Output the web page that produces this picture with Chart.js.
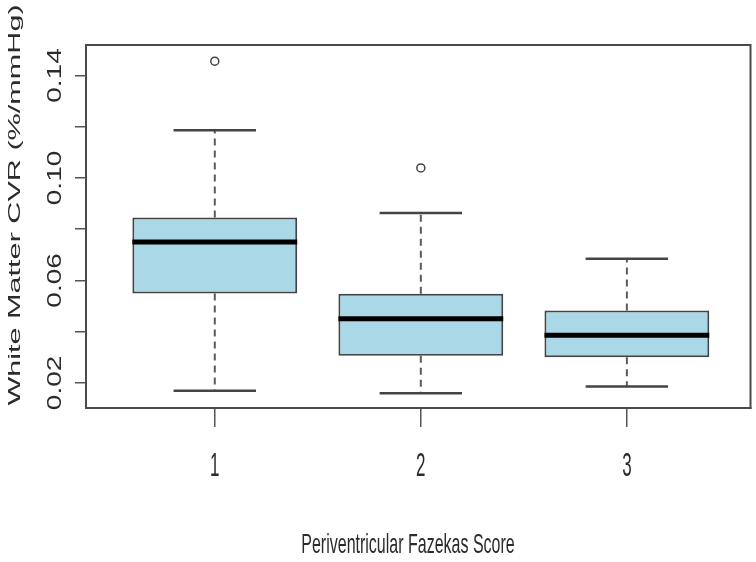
<!DOCTYPE html>
<html>
<head>
<meta charset="utf-8">
<title>White Matter CVR by Periventricular Fazekas Score</title>
<script src="https://cdn.jsdelivr.net/npm/chart.js@4.4.1/dist/chart.umd.min.js"></script>
<style>
    html, body { margin: 0; padding: 0; background: #ffffff; }
    #wrap { width: 756px; height: 562px; }
</style>
</head>
<body>
<div id="wrap"><canvas id="boxChart" width="756" height="562"></canvas></div>
<script>
// Groups (Fazekas score) and box statistics
const groups = [1, 2, 3];
const groupLabels = ['1', '2', '3'];
const whiskerLow = [0.0169, 0.0160, 0.0186];
const lowerQuartile = [0.0549, 0.0306, 0.0300];
const medians = [0.0750, 0.0450, 0.0386];
const upperQuartile = [0.0846, 0.0548, 0.0483];
const whiskerHigh = [0.1186, 0.0863, 0.0685];

// Outliers
const outlierGroups = [1, 2];
const outlierValues = [0.1456, 0.1039];

// Y axis ticks (R draws every tick but skips overlapping labels)
const yTicks = [0.02, 0.04, 0.06, 0.08, 0.10, 0.12, 0.14];
const yTickLabels = ['0.02', '', '0.06', '', '0.10', '', '0.14'];

const xTitle = 'Periventricular Fazekas Score';
const yTitle = 'White Matter CVR (%/mmHg)';

const BOX_WIDTH = 0.8;
const CAP_WIDTH = 0.4;
const TEXT_COLOR = '#2b2b2b';
const FONT = '"Liberation Sans", Arial, sans-serif';

// Build line segments separated by gaps
function segments(fn) {
    const out = [];
    groups.forEach((g, i) => {
        fn(g, i).forEach(seg => {
            out.push(seg[0], seg[1], { x: g, y: null });
        });
    });
    return out;
}

const whiskerData = segments((g, i) => [
    [{ x: g, y: upperQuartile[i] }, { x: g, y: whiskerHigh[i] }],
    [{ x: g, y: lowerQuartile[i] }, { x: g, y: whiskerLow[i] }]
]);
const capData = segments((g, i) => [
    [{ x: g - CAP_WIDTH / 2, y: whiskerHigh[i] }, { x: g + CAP_WIDTH / 2, y: whiskerHigh[i] }],
    [{ x: g - CAP_WIDTH / 2, y: whiskerLow[i] }, { x: g + CAP_WIDTH / 2, y: whiskerLow[i] }]
]);
const medianData = segments((g, i) => [
    [{ x: g - BOX_WIDTH / 2, y: medians[i] }, { x: g + BOX_WIDTH / 2, y: medians[i] }]
]);
const boxData = groups.map((g, i) => ({ x: g, y: [lowerQuartile[i], upperQuartile[i]] }));
const outlierData = outlierGroups.map((g, i) => ({ x: g, y: outlierValues[i] }));

// Stretched text, the figure was resized non-uniformly
function drawText(ctx, text, x, y, size, rotate, sx, sy) {
    ctx.save();
    ctx.translate(x, y);
    if (rotate) ctx.rotate(-Math.PI / 2);
    ctx.scale(sx, sy);
    ctx.font = size + 'px ' + FONT;
    ctx.fillStyle = TEXT_COLOR;
    ctx.textAlign = 'center';
    ctx.textBaseline = 'middle';
    ctx.fillText(text, 0, 0);
    ctx.restore();
}

const rStylePlugin = {
    id: 'rStyle',
    afterDraw(chart) {
        const ctx = chart.ctx;
        const area = chart.chartArea;
        const xs = chart.scales.x;
        const ys = chart.scales.y;

        // plot box
        ctx.save();
        ctx.strokeStyle = '#4a4a4a';
        ctx.lineWidth = 2;
        ctx.strokeRect(area.left, area.top, area.right - area.left, area.bottom - area.top);
        ctx.restore();

        yTicks.forEach((v, i) => {
            if (yTickLabels[i]) {
                drawText(ctx, yTickLabels[i], 55, ys.getPixelForValue(v), 20, true, 1.4, 1);
            }
        });
        groups.forEach((g, i) => {
            drawText(ctx, groupLabels[i], xs.getPixelForValue(g), 467, 17, false, 1, 2.0);
        });
        drawText(ctx, yTitle, 15, 205, 17, true, 1.8, 1);
        drawText(ctx, xTitle, 408, 545, 16, false, 1, 1.75);
    }
};

document.addEventListener('DOMContentLoaded', function() {
    const ctx = document.getElementById('boxChart').getContext('2d');
    new Chart(ctx, {
        type: 'bar',
        data: {
            datasets: [
                {
                    type: 'line',
                    label: 'Whiskers',
                    data: whiskerData,
                    borderColor: '#5a5a5a',
                    borderWidth: 2,
                    borderDash: [7, 5],
                    pointRadius: 0,
                    spanGaps: false,
                    fill: false,
                    order: 5
                },
                {
                    type: 'bar',
                    label: 'Boxes',
                    data: boxData,
                    backgroundColor: '#aad8e6',
                    borderColor: '#444444',
                    borderWidth: 2,
                    borderSkipped: false,
                    barPercentage: BOX_WIDTH,
                    categoryPercentage: 1.0,
                    order: 4
                },
                {
                    type: 'line',
                    label: 'Caps',
                    data: capData,
                    borderColor: '#444444',
                    borderWidth: 2.5,
                    pointRadius: 0,
                    spanGaps: false,
                    fill: false,
                    order: 3
                },
                {
                    type: 'line',
                    label: 'Medians',
                    data: medianData,
                    borderColor: '#000000',
                    borderWidth: 5,
                    borderCapStyle: 'butt',
                    pointRadius: 0,
                    spanGaps: false,
                    fill: false,
                    order: 2
                },
                {
                    type: 'scatter',
                    label: 'Outliers',
                    data: outlierData,
                    pointStyle: 'circle',
                    pointRadius: 4,
                    borderColor: '#444444',
                    borderWidth: 1.5,
                    backgroundColor: 'rgba(255,255,255,0)',
                    order: 1
                }
            ]
        },
        options: {
            responsive: false,
            animation: false,
            events: [],
            layout: {
                padding: { top: 45, right: 2, left: 0, bottom: 0 }
            },
            plugins: {
                legend: { display: false },
                tooltip: { enabled: false }
            },
            scales: {
                x: {
                    type: 'linear',
                    position: 'bottom',
                    min: 0.375,
                    max: 3.6,
                    offset: false,
                    afterBuildTicks: scale => { scale.ticks = groups.map(v => ({ value: v })); },
                    afterFit: scale => { scale.height = 154; },
                    ticks: { color: 'rgba(0,0,0,0)', font: { size: 17 } },
                    grid: {
                        offset: false,
                        drawOnChartArea: false,
                        drawTicks: true,
                        tickLength: 19,
                        color: '#555555',
                        lineWidth: 1.5
                    },
                    border: { display: true, color: '#4a4a4a', width: 2 }
                },
                y: {
                    type: 'linear',
                    min: 0.0102,
                    max: 0.1519,
                    afterBuildTicks: scale => { scale.ticks = yTicks.map(v => ({ value: v })); },
                    afterFit: scale => { scale.width = 86; },
                    ticks: { color: 'rgba(0,0,0,0)', font: { size: 12 } },
                    grid: {
                        drawOnChartArea: false,
                        drawTicks: true,
                        tickLength: 11,
                        color: '#555555',
                        lineWidth: 1.5
                    },
                    border: { display: true, color: '#4a4a4a', width: 2 }
                }
            }
        },
        plugins: [rStylePlugin]
    });
});
</script>
</body>
</html>
